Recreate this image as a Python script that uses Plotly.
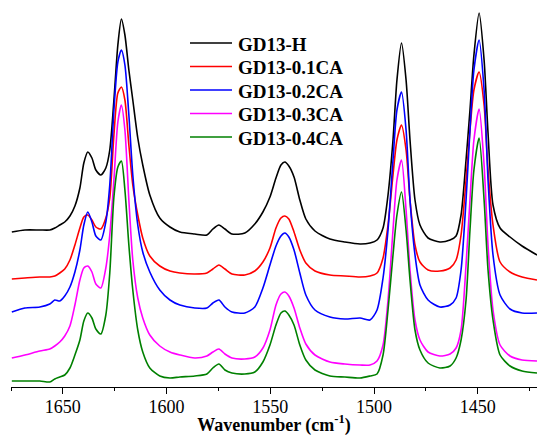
import plotly.graph_objects as go

# Wavenumber grid (cm-1)
wavenumber = [
    1674.6, 1668.3, 1661.1, 1656.3, 1653.9, 1651.5, 1649.1, 1646.6, 1644.2, 1641.8,
    1639.9, 1638.0, 1636.0, 1634.1, 1631.7, 1629.3, 1627.4, 1625.4, 1623.5, 1621.8,
    1620.1, 1618.2, 1616.3, 1613.9, 1611.5, 1608.1, 1603.3, 1598.4, 1593.6, 1586.4,
    1580.6, 1577.7, 1574.8, 1571.9, 1568.5, 1562.3, 1557.5, 1553.6, 1550.2, 1547.3,
    1544.9, 1543.0, 1541.1, 1538.6, 1535.8, 1532.9, 1528.5, 1521.3, 1514.1, 1506.8,
    1502.0, 1498.6, 1495.7, 1493.3, 1490.9, 1489.0, 1486.8, 1484.6, 1482.7, 1480.3,
    1477.9, 1474.0, 1468.3, 1463.4, 1460.5, 1458.1, 1455.7, 1453.8, 1451.9, 1449.4,
    1447.0, 1445.1, 1442.7, 1439.3, 1434.5, 1428.7, 1421.5,
]

# Stacked (offset) intensities, arbitrary units
gd13_h = [
    1.55, 1.57, 1.57, 1.57, 1.59, 1.62, 1.65, 1.71, 1.81, 1.99,
    2.24, 2.35, 2.29, 2.17, 2.12, 2.19, 2.37, 2.87, 3.42, 3.68,
    3.52, 3.17, 2.87, 2.49, 2.22, 1.92, 1.69, 1.60, 1.55, 1.53,
    1.52, 1.58, 1.62, 1.58, 1.53, 1.54, 1.63, 1.75, 1.90, 2.09,
    2.22, 2.25, 2.21, 2.10, 1.87, 1.68, 1.56, 1.48, 1.45, 1.43,
    1.44, 1.47, 1.59, 1.92, 2.47, 3.07, 3.44, 3.07, 2.47, 1.87,
    1.62, 1.49, 1.45, 1.47, 1.51, 1.72, 2.27, 2.77, 3.32, 3.74,
    3.27, 2.54, 1.82, 1.59, 1.50, 1.41, 1.32,
]
gd13_01ca = [
    1.08, 1.09, 1.10, 1.10, 1.11, 1.14, 1.18, 1.27, 1.42, 1.59,
    1.70, 1.72, 1.67, 1.60, 1.58, 1.69, 1.89, 2.52, 2.94, 3.00,
    2.87, 2.42, 2.02, 1.72, 1.49, 1.31, 1.21, 1.16, 1.14, 1.13,
    1.14, 1.18, 1.22, 1.18, 1.13, 1.12, 1.16, 1.25, 1.39, 1.59,
    1.69, 1.71, 1.68, 1.55, 1.37, 1.24, 1.16, 1.12, 1.11, 1.10,
    1.11, 1.14, 1.29, 1.62, 2.12, 2.47, 2.62, 2.37, 1.87, 1.42,
    1.25, 1.17, 1.16, 1.19, 1.27, 1.52, 2.07, 2.57, 2.97, 3.15,
    2.82, 2.17, 1.62, 1.25, 1.15, 1.10, 1.07,
]
gd13_02ca = [
    0.75, 0.79, 0.80, 0.83, 0.87, 0.86, 0.91, 1.00, 1.15, 1.37,
    1.62, 1.75, 1.65, 1.51, 1.47, 1.65, 2.02, 2.77, 3.25, 3.37,
    3.22, 2.72, 2.12, 1.62, 1.35, 1.15, 0.97, 0.87, 0.82, 0.79,
    0.79, 0.84, 0.87, 0.80, 0.75, 0.74, 0.80, 0.99, 1.22, 1.41,
    1.51, 1.54, 1.50, 1.37, 1.14, 0.92, 0.77, 0.70, 0.68, 0.69,
    0.67, 0.77, 1.09, 1.57, 2.27, 2.77, 2.95, 2.57, 1.87, 1.32,
    1.02, 0.87, 0.80, 0.82, 0.89, 1.17, 1.87, 2.57, 3.17, 3.47,
    2.97, 2.07, 1.32, 0.92, 0.78, 0.74, 0.74,
]
gd13_03ca = [
    0.29, 0.32, 0.36, 0.38, 0.41, 0.45, 0.51, 0.61, 0.82, 1.07,
    1.19, 1.21, 1.15, 1.03, 0.99, 1.19, 1.52, 2.07, 2.65, 2.82,
    2.57, 1.87, 1.27, 0.89, 0.69, 0.52, 0.41, 0.35, 0.32, 0.29,
    0.31, 0.35, 0.38, 0.33, 0.29, 0.28, 0.30, 0.39, 0.57, 0.82,
    0.93, 0.95, 0.91, 0.79, 0.59, 0.43, 0.32, 0.25, 0.23, 0.22,
    0.22, 0.26, 0.42, 0.87, 1.57, 2.07, 2.27, 1.77, 1.17, 0.67,
    0.47, 0.35, 0.31, 0.33, 0.39, 0.57, 1.22, 1.87, 2.47, 2.78,
    2.22, 1.42, 0.77, 0.42, 0.31, 0.27, 0.26,
]
gd13_04ca = [
    0.06, 0.06, 0.06, 0.05, 0.08, 0.10, 0.12, 0.19, 0.32, 0.47,
    0.66, 0.74, 0.69, 0.58, 0.53, 0.72, 1.14, 1.90, 2.20, 2.26,
    1.97, 1.42, 0.97, 0.57, 0.35, 0.19, 0.11, 0.09, 0.10, 0.11,
    0.13, 0.19, 0.23, 0.17, 0.14, 0.13, 0.15, 0.25, 0.42, 0.62,
    0.74, 0.76, 0.72, 0.62, 0.42, 0.27, 0.17, 0.11, 0.10, 0.09,
    0.11, 0.13, 0.32, 0.77, 1.32, 1.72, 1.95, 1.57, 1.07, 0.57,
    0.37, 0.24, 0.19, 0.21, 0.29, 0.47, 0.87, 1.57, 2.17, 2.49,
    1.87, 1.17, 0.67, 0.32, 0.21, 0.16, 0.14,
]

series_names = ["GD13-H", "GD13-0.1CA", "GD13-0.2CA", "GD13-0.3CA", "GD13-0.4CA"]
series_values = [gd13_h, gd13_01ca, gd13_02ca, gd13_03ca, gd13_04ca]
series_colors = ["#000000", "#ff0000", "#0000ff", "#ff00ff", "#008000"]

tick_values = [1650, 1600, 1550, 1500, 1450]
tick_labels = ["1650", "1600", "1550", "1500", "1450"]

FONT = "Liberation Serif, Times New Roman, serif"

# plot-area geometry (pixels) used to place the hand-built legend
PLOT_L, PLOT_W, PLOT_H = 11, 526, 387


def px_x(px):
    return (px - PLOT_L) / PLOT_W


def px_y(py):
    return 1 - py / PLOT_H


fig = go.Figure()
for name, vals, col in zip(series_names, series_values, series_colors):
    assert len(vals) == len(wavenumber)
    fig.add_trace(go.Scatter(
        x=wavenumber, y=vals, name=name, mode="lines", showlegend=False,
        line=dict(color=col, width=1.6, shape="spline", smoothing=0.7),
    ))

# Legend built from the series names / colours
legend_rows_px = [43, 66.5, 90, 113.5, 137]
shapes, annotations = [], []
for name, col, ry in zip(series_names, series_colors, legend_rows_px):
    shapes.append(dict(type="line", xref="paper", yref="paper",
                       x0=px_x(190), x1=px_x(232), y0=px_y(ry), y1=px_y(ry),
                       line=dict(color=col, width=1.6)))
    annotations.append(dict(xref="paper", yref="paper", x=px_x(236), y=px_y(ry + 1),
                            xanchor="left", yanchor="middle", showarrow=False,
                            text=f"<b>{name}</b>",
                            font=dict(family=FONT, size=19, color="black")))

fig.update_layout(
    width=537, height=436,
    margin=dict(l=PLOT_L, r=0, t=0, b=436 - PLOT_H),
    paper_bgcolor="white", plot_bgcolor="white",
    font=dict(family=FONT, color="black"),
    showlegend=False,
    shapes=shapes, annotations=annotations,
)
fig.update_xaxes(
    range=[1675, 1421.5],
    tickmode="array", tickvals=tick_values, ticktext=tick_labels,
    ticks="outside", ticklen=6, tickwidth=1.2, tickcolor="black",
    minor=dict(dtick=25, tick0=1675, ticks="outside", ticklen=3, tickwidth=1.2, tickcolor="black"),
    showline=True, linecolor="black", linewidth=1.3,
    showgrid=False, zeroline=False,
    ticklabelstandoff=-3,
    tickfont=dict(family=FONT, size=18, color="black"),
    title=dict(text="<b>Wavenumber (cm<sup>-1</sup>)</b>",
               font=dict(family=FONT, size=18, color="black"), standoff=0),
)
fig.update_yaxes(range=[0, 3.87], visible=False, showgrid=False, zeroline=False)

fig.write_html(
    "out.html",
    config={"displayModeBar": False},
    post_script="document.body.style.margin='0';document.body.style.padding='0';",
)
